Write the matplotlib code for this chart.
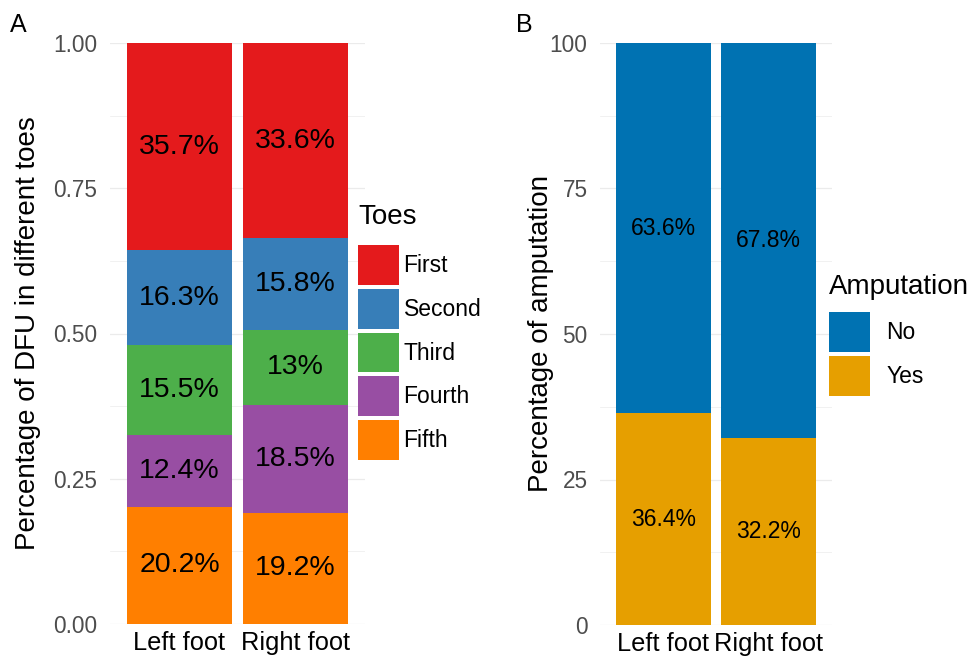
import matplotlib.pyplot as plt
from matplotlib.patches import Patch
import numpy as np

plt.rcParams['font.family'] = ['Liberation Sans', 'DejaVu Sans']

feet = ['Left foot', 'Right foot']

# panel A: share of DFU per toe (stack order bottom -> top)
toes = ['Fifth', 'Fourth', 'Third', 'Second', 'First']
toe_colors = ['#FF7F00', '#984EA3', '#4DAF4A', '#377EB8', '#E41A1C']
left_toes = [20.2, 12.4, 15.5, 16.3, 35.7]
right_toes = [19.2, 18.5, 13, 15.8, 33.6]
left_labels = ['20.2%', '12.4%', '15.5%', '16.3%', '35.7%']
right_labels = ['19.2%', '18.5%', '13%', '15.8%', '33.6%']

# panel B: amputation
amp_cats = ['Yes', 'No']
amp_colors = ['#E69F00', '#0072B2']
left_amp = [36.4, 63.6]
right_amp = [32.2, 67.8]
left_amp_labels = ['36.4%', '63.6%']
right_amp_labels = ['32.2%', '67.8%']

grid_col = '#EBEBEB'
tick_col = '#4D4D4D'

fig = plt.figure(figsize=(9.7, 6.58), dpi=100)
axA = fig.add_axes([110/970, 34/658, 255/970, 581/658])
axB = fig.add_axes([600/970, 33/658, 232/970, 582/658])

x = np.arange(len(feet)) + 1

# ---- panel A
vals = np.array([left_toes, right_toes]) / 100.0
vals = vals / vals.sum(axis=1, keepdims=True)
labs = [left_labels, right_labels]
bottom = np.zeros(2)
for i, t in enumerate(toes):
    axA.bar(x, vals[:, i], bottom=bottom, width=0.9, color=toe_colors[i], zorder=2)
    for j in range(2):
        axA.text(x[j], bottom[j] + vals[j, i] / 2, labs[j][i], ha='center', va='center',
                 fontsize=20.5, color='black', zorder=3)
    bottom += vals[:, i]

axA.set_xlim(0.4, 2.6)
axA.set_ylim(0, 1)
axA.set_yticks([0, 0.25, 0.5, 0.75, 1.0])
axA.set_yticklabels(['0.00', '0.25', '0.50', '0.75', '1.00'])
axA.set_yticks([0.125, 0.375, 0.625, 0.875], minor=True)
axA.set_ylabel('Percentage of DFU in different toes', fontsize=20, labelpad=9)

handlesA = [Patch(facecolor=toe_colors[i], edgecolor='none', label=toes[i]) for i in range(4, -1, -1)]
legA = axA.legend(handles=handlesA, title='Toes', loc='upper left',
                  bbox_to_anchor=(358/970, 1 - 204/658), bbox_transform=fig.transFigure,
                  frameon=False, fontsize=16.5, title_fontsize=20, handlelength=1.79,
                  handleheight=2.28, labelspacing=0.18, handletextpad=0.2,
                  alignment='left', borderaxespad=0, borderpad=0)
legA._legend_box.sep = 11

# ---- panel B
valsB = np.array([left_amp, right_amp])
labsB = [left_amp_labels, right_amp_labels]
bottom = np.zeros(2)
for i, c in enumerate(amp_cats):
    axB.bar(x, valsB[:, i], bottom=bottom, width=0.9, color=amp_colors[i], zorder=2)
    for j in range(2):
        axB.text(x[j], bottom[j] + valsB[j, i] / 2, labsB[j][i], ha='center', va='center',
                 fontsize=16.5, color='black', zorder=3)
    bottom += valsB[:, i]

axB.set_xlim(0.4, 2.6)
axB.set_ylim(0, 100)
axB.set_yticks([0, 25, 50, 75, 100])
axB.set_yticks([12.5, 37.5, 62.5, 87.5], minor=True)
axB.set_ylabel('Percentage of amputation', fontsize=20, labelpad=-3)

handlesB = [Patch(facecolor=amp_colors[i], edgecolor='none', label=amp_cats[i]) for i in (1, 0)]
legB = axB.legend(handles=handlesB, title='Amputation', loc='upper left',
                  bbox_to_anchor=(829/970, 1 - 274/658), bbox_transform=fig.transFigure,
                  frameon=False, fontsize=16.5, title_fontsize=20, handlelength=1.79,
                  handleheight=2.28, labelspacing=0.18, handletextpad=0.72,
                  alignment='left', borderaxespad=0, borderpad=0)
legB._legend_box.sep = 9

for ax in (axA, axB):
    ax.set_xticks(x)
    ax.set_xticklabels(feet, fontsize=18.3, color='black')
    for s in ax.spines.values():
        s.set_visible(False)
    ax.tick_params(axis='both', which='both', length=0)
    ax.tick_params(axis='y', labelsize=16.3, labelcolor=tick_col, pad=9)
    ax.tick_params(axis='x', pad=5)
    ax.grid(axis='y', which='major', color=grid_col, lw=0.9, zorder=0)
    ax.grid(axis='y', which='minor', color=grid_col, lw=0.5, zorder=0)
    ax.grid(axis='x', which='major', color=grid_col, lw=0.9, zorder=0)
    ax.set_axisbelow(True)

fig.text(10/970, 1 - 25/658, 'A', fontsize=18, va='center', ha='left')
fig.text(516/970, 1 - 25/658, 'B', fontsize=18, va='center', ha='left')

fig.savefig('out.png', dpi=100, facecolor='white')
